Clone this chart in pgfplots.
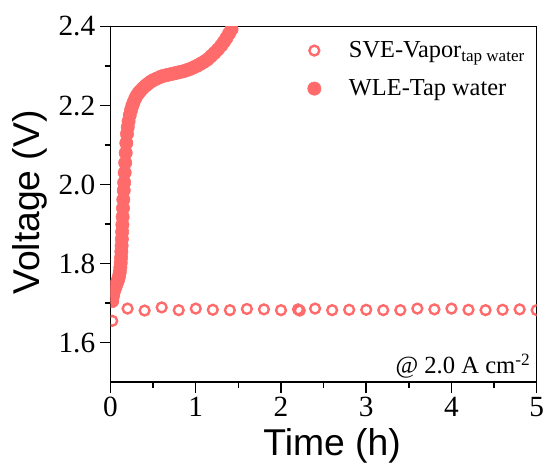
\documentclass[border=0pt]{standalone}
\usepackage{fontspec}
\setmainfont{Liberation Serif}
\setsansfont{Liberation Sans}
\usepackage{pgfplots}
\pgfplotsset{compat=1.18}
\definecolor{sal}{RGB}{255,107,107}
\pgfplotsset{myleg/.style={legend image code/.code={\draw[##1] plot coordinates {(0.25cm,0cm)};}}}

\pgfplotstableread{
t V
0.020 1.705
0.025 1.715
0.030 1.722
0.040 1.730
0.050 1.736
0.060 1.742
0.070 1.748
0.080 1.754
0.090 1.760
0.100 1.768
0.108 1.778
0.115 1.790
0.120 1.802
0.124 1.815
0.127 1.830
0.130 1.845
0.133 1.862
0.136 1.880
0.139 1.898
0.142 1.918
0.146 1.940
0.150 1.962
0.155 1.985
0.160 2.005
0.166 2.030
0.172 2.055
0.178 2.080
0.185 2.105
0.193 2.128
0.202 2.145
0.212 2.160
0.225 2.175
0.240 2.188
0.255 2.199
0.270 2.208
0.290 2.218
0.310 2.226
0.330 2.232
0.350 2.237
0.380 2.244
0.410 2.250
0.440 2.255
0.470 2.260
0.500 2.264
0.540 2.268
0.580 2.272
0.620 2.275
0.660 2.277
0.700 2.279
0.740 2.281
0.780 2.283
0.820 2.285
0.860 2.287
0.900 2.290
0.940 2.293
0.980 2.297
1.020 2.301
1.060 2.306
1.100 2.311
1.140 2.317
1.180 2.325
1.220 2.333
1.260 2.342
1.300 2.352
1.330 2.361
1.360 2.371
1.390 2.382
1.420 2.393
1.450 2.405
1.480 2.418
}\wle

\pgfplotstableread{
t V
0.02 1.655
0.20 1.686
0.40 1.681
0.60 1.689
0.80 1.682
1.00 1.686
1.20 1.683
1.40 1.682
1.60 1.685
1.80 1.684
2.00 1.682
2.20 1.684
2.22 1.681
2.40 1.686
2.60 1.682
2.80 1.683
3.00 1.683
3.20 1.682
3.40 1.682
3.60 1.686
3.80 1.684
4.00 1.686
4.20 1.683
4.40 1.682
4.60 1.683
4.80 1.684
5.00 1.682
}\sve

\begin{document}
\begin{tikzpicture}
\begin{axis}[
  name=ax,
  scale only axis, width=320pt, height=267pt,
  xmin=0, xmax=5, ymin=1.5, ymax=2.4,
  xtick={0,1,2,3,4,5}, minor x tick num=1,
  ytick={1.6,1.8,2.0,2.2,2.4}, minor y tick num=1,
  xtick pos=left, ytick pos=left,
  tick align=outside,
  major tick length=8pt, minor tick length=4.5pt,
  every tick/.style={black, line width=1.1pt},
  axis line style={line width=1.1pt},
  /pgf/number format/assume math mode=true,
  tick label style={font=\fontsize{22}{22}\selectfont},
  xticklabel style={inner xsep=0pt},
  yticklabel style={/pgf/number format/.cd, fixed, fixed zerofill, precision=1},
  xlabel={Time (h)}, ylabel={Voltage (V)},
  label style={font=\sffamily\fontsize{28}{28}\selectfont},
  xlabel style={at={(axis description cs:0.52,-0.18)}, anchor=center},
  ylabel style={at={(axis description cs:-0.189,0.505)}, anchor=center},
  clip marker paths=true,
  legend style={at={(rel axis cs:0.462,0.966)}, anchor=north west, draw=none, fill=none,
    font=\fontsize{18.3}{18.3}\selectfont, row sep=11pt, inner sep=0pt},
  legend cell align=left,
]
\addplot[only marks, mark=o, color=sal, mark size=3.7pt, mark options={line width=1.8pt}, myleg]
  table[x=t,y=V] {\sve};
\addlegendentry{\hspace*{19pt}SVE-Vapor\textsubscript{tap water}}
\addplot[only marks, mark=*, color=sal, mark size=5pt, mark options={draw=none, fill=sal}, myleg]
  table[x=t,y=V] {\wle};
\addlegendentry{\hspace*{19pt}WLE-Tap water}
\node[anchor=base east, inner sep=0pt, font=\fontsize{18.5}{18.5}\selectfont] at (rel axis cs:0.986,0.024) {@ 2.0 A cm\textsuperscript{-2}};
\end{axis}
\path ([shift={(-83pt,-60.75pt)}]ax.south west) ([shift={(4.7pt,19.9pt)}]ax.north east);
\end{tikzpicture}
\end{document}
